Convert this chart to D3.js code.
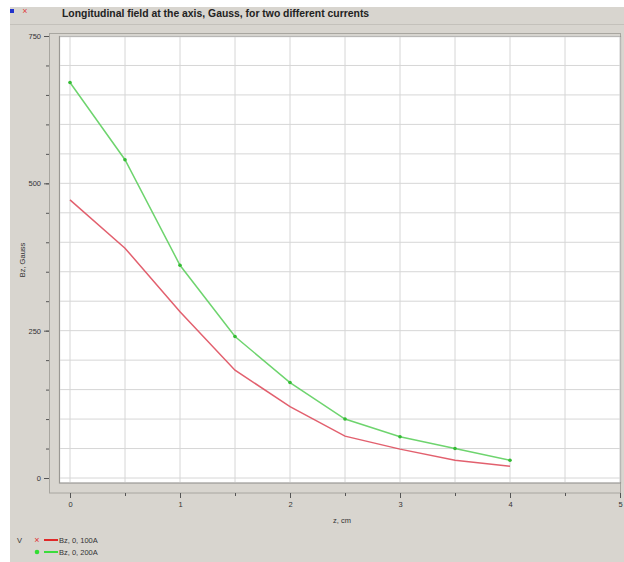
<!DOCTYPE html>
<html>
<head>
<meta charset="utf-8">
<script src="https://cdn.jsdelivr.net/npm/d3@7"></script>
<style>
  html, body { margin: 0; padding: 0; background: #fff; }
  svg { display: block; font-family: "Liberation Sans", Arial, sans-serif; }
</style>
</head>
<body>
<div id="chart"></div>
<script>
// values
const zValues = [0, 0.5, 1, 1.5, 2, 2.5, 3, 3.5, 4];
const bz100 = [472, 390, 282, 183, 121, 71, 49, 30, 20];
const bz200 = [671, 540, 361, 240, 162, 100, 70, 50, 30];
const seriesNames = ["Bz, 0, 100A", "Bz, 0, 200A"];
const seriesColors = ["#dd4455", "#55cc55"];
const xTicks = [0, 1, 2, 3, 4, 5];
const yTicks = [0, 250, 500, 750];

const title = "Longitudinal field at the axis, Gauss, for two different currents";

const W = 624, H = 562;
const svg = d3.select("#chart").append("svg").attr("width", W).attr("height", H);

// window background
svg.append("rect").attr("x", 10).attr("y", 7).attr("width", W - 10).attr("height", H - 7)
   .attr("fill", "#d8d5cf");
svg.append("line").attr("x1", 10).attr("x2", W).attr("y1", 24.5).attr("y2", 24.5)
   .attr("stroke", "#c4c1bb");

// little window icons
svg.append("rect").attr("x", 10).attr("y", 9).attr("width", 4).attr("height", 4).attr("fill", "#2233cc");
svg.append("text").attr("x", 25).attr("y", 14).attr("text-anchor", "middle")
   .attr("font-size", 9).attr("fill", "#e04040").text("×");

svg.append("text").attr("x", 62).attr("y", 17).attr("font-size", 10.4).attr("font-weight", "bold")
   .attr("fill", "#222").text(title);

const x = d3.scaleLinear().domain([0, 5]).range([70, 620]);
const y = d3.scaleLinear().domain([0, 750]).range([478, 36]);

// outer frame and white plot box
svg.append("rect").attr("x", 49.5).attr("y", 33.5).attr("width", 571).attr("height", 459.5)
   .attr("fill", "none").attr("stroke", "#a8a6a0");
svg.append("rect").attr("x", 59.5).attr("y", 36.5).attr("width", 561).attr("height", 446.5)
   .attr("fill", "#fff").attr("stroke", "#9a9894").attr("stroke-width", 1.2);

// grid
const grid = svg.append("g").attr("stroke", "#d6d6d6").attr("stroke-width", 1);
grid.selectAll("line.gx").data(d3.range(0, 5.01, 0.5)).enter().append("line")
    .attr("x1", d => x(d)).attr("x2", d => x(d)).attr("y1", 37).attr("y2", 482);
grid.selectAll("line.gy").data(d3.range(0, 751, 50)).enter().append("line")
    .attr("y1", d => y(d)).attr("y2", d => y(d)).attr("x1", 60).attr("x2", 620);

// axes
const axisStyle = g => {
  g.select(".domain").remove();
  g.selectAll("line").attr("stroke", "#555");
  g.selectAll("text").attr("fill", "#333").attr("font-size", 7.5);
};
svg.append("g").attr("transform", "translate(49,0)")
   .call(d3.axisLeft(y).tickValues(d3.range(0, 751, 50)).tickSize(3).tickFormat(""))
   .call(axisStyle);
svg.append("g").attr("transform", "translate(49,0)")
   .call(d3.axisLeft(y).tickValues(yTicks).tickSize(5).tickPadding(3).tickFormat(d3.format("d")))
   .call(axisStyle);
svg.append("g").attr("transform", "translate(0,493)")
   .call(d3.axisBottom(x).tickValues(d3.range(0, 5.01, 0.5)).tickSize(3).tickFormat(""))
   .call(axisStyle);
svg.append("g").attr("transform", "translate(0,493)")
   .call(d3.axisBottom(x).tickValues(xTicks).tickSize(5).tickPadding(4).tickFormat(d3.format("d")))
   .call(axisStyle);

svg.append("text").attr("x", 342).attr("y", 523).attr("text-anchor", "middle")
   .attr("font-size", 7.5).attr("fill", "#333").text("z, cm");
svg.append("text").attr("transform", "translate(25,260) rotate(-90)").attr("text-anchor", "middle")
   .attr("font-size", 7.5).attr("fill", "#333").text("Bz, Gauss");

// series
const line = d3.line().x(d => x(d[0])).y(d => y(d[1]));
[bz100, bz200].forEach((vals, i) => {
  const pts = zValues.map((z, k) => [z, vals[k]]);
  svg.append("path").datum(pts).attr("d", line).attr("fill", "none")
     .attr("stroke", seriesColors[i]).attr("stroke-width", 1.5).attr("opacity", 0.85);
  if (i === 1) {
    svg.selectAll(null).data(pts).enter().append("circle")
       .attr("cx", d => x(d[0])).attr("cy", d => y(d[1])).attr("r", 1.8)
       .attr("fill", "#33bb33");
  }
});

// legend
svg.append("text").attr("x", 17).attr("y", 543).attr("font-size", 7.5).attr("fill", "#333").text("V");
seriesNames.forEach((name, i) => {
  const ly = 540 + i * 12;
  if (i === 0) {
    svg.append("text").attr("x", 37).attr("y", ly + 3).attr("text-anchor", "middle")
       .attr("font-size", 9).attr("fill", "#e03030").text("×");
  } else {
    svg.append("circle").attr("cx", 37).attr("cy", ly).attr("r", 2.3).attr("fill", "#33dd33");
  }
  svg.append("line").attr("x1", 44).attr("x2", 58).attr("y1", ly).attr("y2", ly)
     .attr("stroke", i === 0 ? "#e02828" : "#3cdc3c").attr("stroke-width", 2);
  svg.append("text").attr("x", 59).attr("y", ly + 3).attr("font-size", 7.5).attr("fill", "#333").text(name);
});
</script>
</body>
</html>
